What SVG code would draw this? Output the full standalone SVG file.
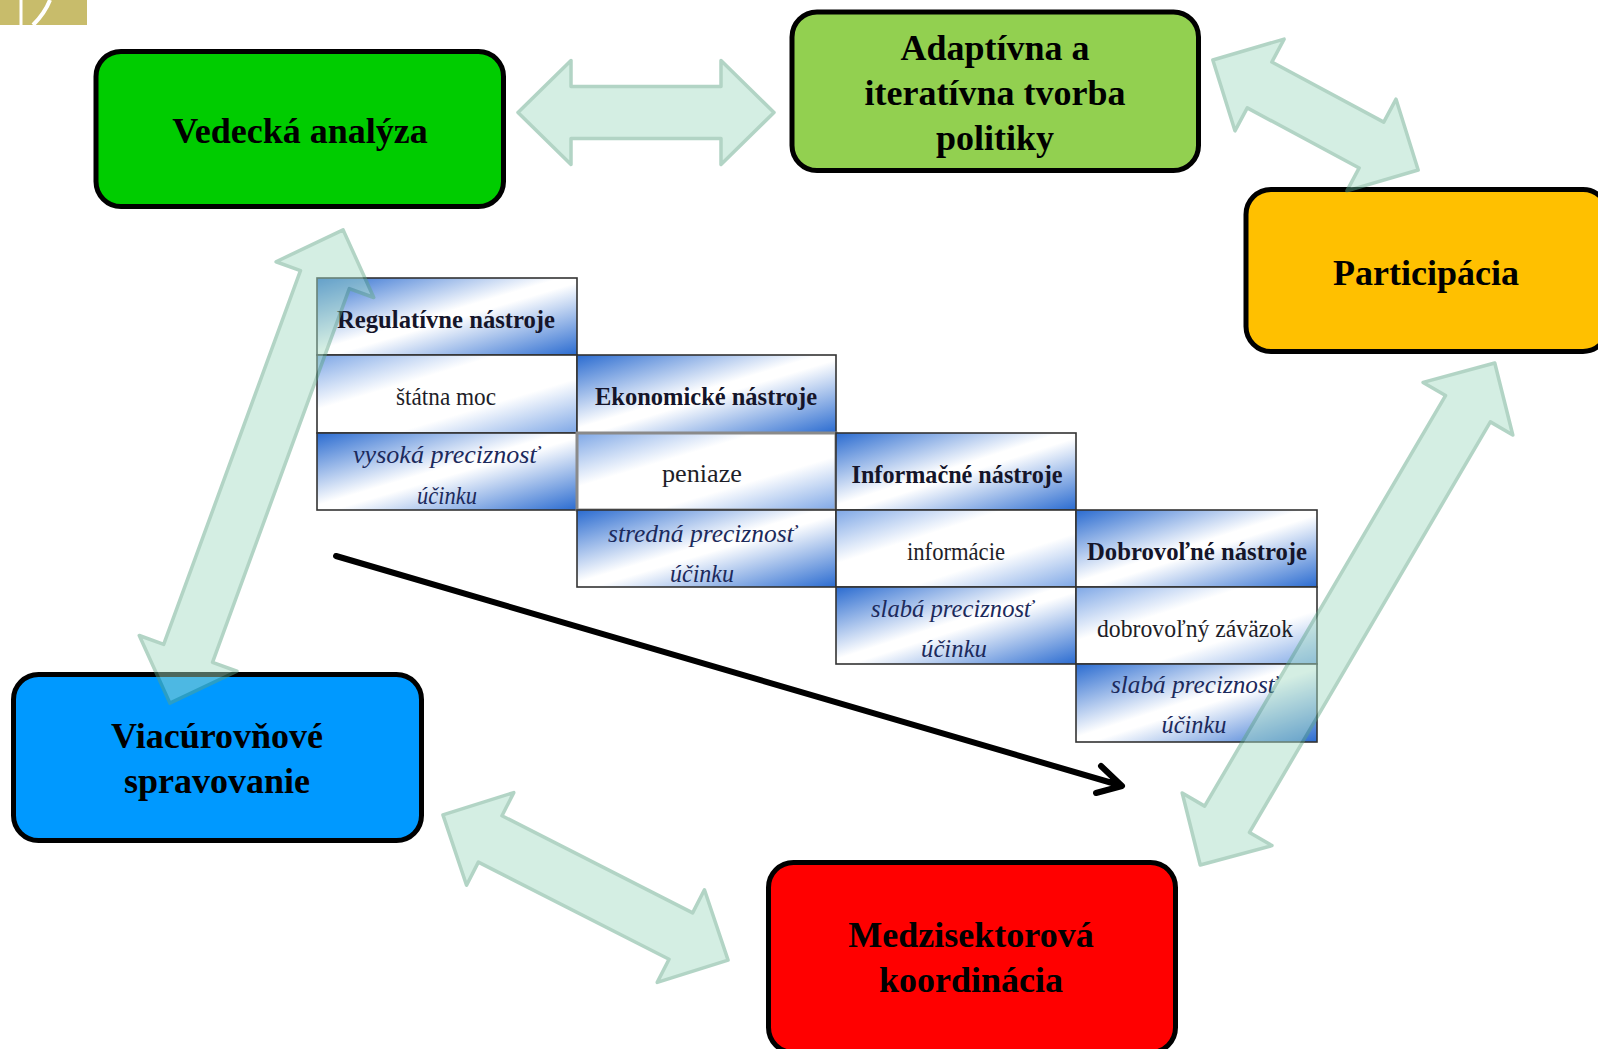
<svg xmlns="http://www.w3.org/2000/svg" width="1598" height="1049" viewBox="0 0 1598 1049">
<style>
.node{stroke:#000;stroke-width:5}
.nt{font-family:"Liberation Serif","Times New Roman",serif;font-weight:bold;font-size:36px;fill:#000;text-anchor:middle}
.cell{stroke:#333;stroke-width:1.6}
.hd{font-family:"Liberation Serif","Times New Roman",serif;font-weight:bold;font-size:25px;fill:#15152a;text-anchor:middle}
.md{font-family:"Liberation Serif","Times New Roman",serif;font-size:25px;fill:#1e1e28;text-anchor:middle}
.it{font-family:"Liberation Serif","Times New Roman",serif;font-style:italic;font-size:25px;fill:#1c2a5c;text-anchor:middle}
.dbl{fill:#a5dcc4;stroke:#5da585;stroke-width:3.5;stroke-linejoin:round;opacity:0.47}
.blk{fill:none;stroke:#000;stroke-width:6;stroke-linecap:round;stroke-linejoin:round}
</style>
<defs>
<linearGradient id="gStrong" x1="0" y1="0" x2="1" y2="1">
<stop offset="0" stop-color="#2a6bd0"/>
<stop offset="0.47" stop-color="#ffffff"/>
<stop offset="0.53" stop-color="#ffffff"/>
<stop offset="1" stop-color="#2a6bd0"/>
</linearGradient>
<linearGradient id="gLight" x1="0" y1="0" x2="1" y2="1">
<stop offset="0" stop-color="#7ea7e6"/>
<stop offset="0.35" stop-color="#ffffff"/>
<stop offset="0.65" stop-color="#ffffff"/>
<stop offset="1" stop-color="#7ea7e6"/>
</linearGradient>
</defs>
<rect width="1598" height="1049" fill="#fff"/>
<g id="logo">
<rect x="0" y="0" width="87" height="25" fill="#c8bc6b"/>
<rect x="19.5" y="0" width="3" height="25" fill="#fff"/>
<path d="M33 25 Q45 13 50 0" fill="none" stroke="#fff" stroke-width="4"/>
</g>
<g id="table">
<g id="col1">
<rect class="cell" x="317" y="278" width="260" height="77" fill="url(#gStrong)"/>
<rect class="cell" x="317" y="355" width="260" height="78" fill="url(#gLight)"/>
<rect class="cell" x="317" y="433" width="260" height="77" fill="url(#gStrong)"/>
<text class="hd" x="446" y="328" textLength="218" lengthAdjust="spacingAndGlyphs">Regulatívne nástroje</text>
<text class="md" x="446" y="405" textLength="100" lengthAdjust="spacingAndGlyphs">štátna moc</text>
<text class="it" x="446" y="463" textLength="186" lengthAdjust="spacingAndGlyphs">vysoká preciznosť</text>
<text class="it" x="447" y="504" textLength="60" lengthAdjust="spacingAndGlyphs">účinku</text>
</g>
<g id="col2">
<rect class="cell" x="577" y="355" width="259" height="78" fill="url(#gStrong)"/>
<rect class="cell" x="577" y="433" width="259" height="77" fill="url(#gLight)" style="stroke:#8a8a8a;stroke-width:3"/>
<rect class="cell" x="577" y="510" width="259" height="77" fill="url(#gStrong)"/>
<text class="hd" x="706" y="405" textLength="222" lengthAdjust="spacingAndGlyphs">Ekonomické nástroje</text>
<text class="md" x="702" y="482" textLength="80" lengthAdjust="spacingAndGlyphs">peniaze</text>
<text class="it" x="702" y="542" textLength="188" lengthAdjust="spacingAndGlyphs">stredná preciznosť</text>
<text class="it" x="702" y="582" textLength="64" lengthAdjust="spacingAndGlyphs">účinku</text>
</g>
<g id="col3">
<rect class="cell" x="836" y="433" width="240" height="77" fill="url(#gStrong)"/>
<rect class="cell" x="836" y="510" width="240" height="77" fill="url(#gLight)"/>
<rect class="cell" x="836" y="587" width="240" height="77" fill="url(#gStrong)"/>
<text class="hd" x="957" y="483" textLength="211" lengthAdjust="spacingAndGlyphs">Informačné nástroje</text>
<text class="md" x="956" y="560" textLength="98" lengthAdjust="spacingAndGlyphs">informácie</text>
<text class="it" x="952" y="617" textLength="162" lengthAdjust="spacingAndGlyphs">slabá preciznosť</text>
<text class="it" x="954" y="657" textLength="66" lengthAdjust="spacingAndGlyphs">účinku</text>
</g>
<g id="col4">
<rect class="cell" x="1076" y="510" width="241" height="77" fill="url(#gStrong)"/>
<rect class="cell" x="1076" y="587" width="241" height="77" fill="url(#gLight)"/>
<rect class="cell" x="1076" y="664" width="241" height="78" fill="url(#gStrong)"/>
<text class="hd" x="1197" y="560" textLength="220" lengthAdjust="spacingAndGlyphs">Dobrovoľné nástroje</text>
<text class="md" x="1195" y="637" textLength="196" lengthAdjust="spacingAndGlyphs">dobrovoľný záväzok</text>
<text class="it" x="1194" y="693" textLength="166" lengthAdjust="spacingAndGlyphs">slabá preciznosť</text>
<text class="it" x="1194" y="733" textLength="65" lengthAdjust="spacingAndGlyphs">účinku</text>
</g>
</g>
<g id="node-vedecka">
<rect class="node" x="96" y="51.5" width="407.5" height="155" rx="25" fill="#00cc00"/>
<text class="nt" x="300" y="143">Vedecká analýza</text>
</g>
<g id="node-adaptivna">
<rect class="node" x="792" y="12" width="406.5" height="158.5" rx="25" fill="#92d050"/>
<text class="nt" x="995" y="60">Adaptívna a</text>
<text class="nt" x="995" y="105">iteratívna tvorba</text>
<text class="nt" x="995" y="150">politiky</text>
</g>
<g id="node-participacia">
<rect class="node" x="1246" y="189.5" width="362" height="162" rx="25" fill="#ffc000"/>
<text class="nt" x="1426" y="285">Participácia</text>
</g>
<g id="node-viacurovnove">
<rect class="node" x="13.5" y="674.5" width="408" height="166" rx="25" fill="#0099ff"/>
<text class="nt" x="217" y="748">Viacúrovňové</text>
<text class="nt" x="217" y="793">spravovanie</text>
</g>
<g id="node-medzisektorova">
<rect class="node" x="768.5" y="862.5" width="407" height="190" rx="25" fill="#ff0000"/>
<text class="nt" x="971" y="947">Medzisektorová</text>
<text class="nt" x="971" y="992">koordinácia</text>
</g>
<g id="connectors">
<path class="blk" d="M336 556 L1119 785 M1101 766 L1122 786 L1096 793"/>
<path class="dbl" transform="translate(646,112.5)" d="M-128 0 L-75 -52 L-75 -26 L75 -26 L75 -52 L128 0 L75 52 L75 26 L-75 26 L-75 52 Z"/>
<path class="dbl" transform="translate(1315.5,115) rotate(28.2)" d="M-116.5 0 L-63.5 -52 L-63.5 -26 L63.5 -26 L63.5 -52 L116.5 0 L63.5 52 L63.5 26 L-63.5 26 L-63.5 52 Z"/>
<path class="dbl" transform="translate(256.5,466.5) rotate(110.1)" d="M-252 0 L-199 -52 L-199 -26 L199 -26 L199 -52 L252 0 L199 52 L199 26 L-199 26 L-199 52 Z"/>
<path class="dbl" transform="translate(1347.5,614) rotate(120.4)" d="M-291 0 L-238 -52 L-238 -26 L238 -26 L238 -52 L291 0 L238 52 L238 26 L-238 26 L-238 52 Z"/>
<path class="dbl" transform="translate(585.5,887.5) rotate(27)" d="M-160 0 L-107 -52 L-107 -26 L107 -26 L107 -52 L160 0 L107 52 L107 26 L-107 26 L-107 52 Z"/>
</g>
</svg>
